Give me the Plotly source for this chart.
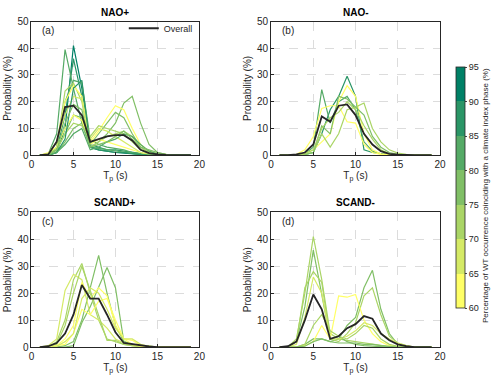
import plotly.graph_objects as go

tp = list(range(1, 20))

# ---- (a) NAO+
nao_pos_overall = [0, 0.3, 5, 18, 18.5, 15, 5, 6, 7, 7.5, 7.5, 5.5, 2, 0.8, 0.3, 0.1, 0, 0, 0]
nao_pos_pct = [92, 88, 83, 82, 78, 77, 72, 62, 61, 67, 73, 87, 81, 76]
nao_pos_lines = [
    [0, 0, 1, 10, 41, 25, 3, 2, 1.5, 1, 0.8, 0.5, 0.3, 0.1, 0, 0, 0, 0, 0],
    [0, 0, 2, 15, 36, 22, 4, 3, 2, 2, 1.5, 1, 0.5, 0.2, 0, 0, 0, 0, 0],
    [0, 0.5, 8, 39.5, 25, 12, 3, 2.5, 2, 1.5, 1, 0.5, 0.2, 0, 0, 0, 0, 0, 0],
    [0, 0, 3, 20, 28, 27, 6, 4, 3, 2.5, 2, 1, 0.5, 0.2, 0, 0, 0, 0, 0],
    [0, 0, 1, 5, 10, 12, 3, 5, 8, 12, 19.5, 22, 12, 4, 1, 0.3, 0, 0, 0],
    [0, 0, 2, 8, 15, 14, 4, 8, 12, 16, 14, 8, 3, 1, 0.3, 0, 0, 0, 0],
    [0, 0, 3, 24, 27, 20, 3, 5, 7, 8, 9, 7, 3, 1, 0.3, 0, 0, 0, 0],
    [0, 1, 3, 10, 15, 13, 5, 9, 14, 18.5, 17, 10, 4, 1.5, 0.5, 0.2, 0, 0, 0],
    [0, 0.5, 5, 20, 26, 22, 4, 6, 5, 4, 3, 2, 1, 0.3, 0, 0, 0, 0, 0],
    [0, 0.5, 5, 15, 22, 21, 6, 10, 9, 7, 5, 3, 1, 0.5, 0.2, 0, 0, 0, 0],
    [0, 0, 2, 8, 12, 11, 7, 11, 10, 9, 8, 5, 2, 0.5, 0.2, 0, 0, 0, 0],
    [0, 0, 1, 6, 25, 28, 3, 2, 1.5, 1, 1, 0.5, 0.2, 0, 0, 0, 0, 0, 0],
    [0, 0, 1, 4, 8, 10, 2, 3, 5, 6, 8, 7, 4, 1.5, 0.5, 0.2, 0, 0, 0],
    [0, 0, 2, 12, 19, 17, 3, 4, 5, 7, 9, 6, 3, 2, 1, 0.3, 0, 0, 0],
]

# ---- (b) NAO-
nao_neg_overall = [0, 0, 0.3, 1, 4, 14.5, 12.5, 18.5, 19, 15, 8, 4, 1.5, 0.5, 0.2, 0, 0, 0, 0]
nao_neg_pct = [88, 82, 62, 61, 72, 78, 73]
nao_neg_lines = [
    [0, 0, 0, 0.3, 1, 8, 17, 22, 29.5, 22, 2, 1, 0.5, 0.2, 0, 0, 0, 0, 0],
    [0, 0, 0, 0.5, 3, 24.5, 12, 20, 22, 17, 5, 1.5, 0.5, 0.2, 0, 0, 0, 0, 0],
    [0, 0, 0.3, 2, 7, 17.5, 18.5, 18.5, 12.5, 12, 4, 1, 0.3, 0, 0, 0, 0, 0, 0],
    [0, 0, 0, 0.5, 2, 5, 8, 20, 26, 22, 8, 2, 0.5, 0.2, 0, 0, 0, 0, 0],
    [0, 0, 0, 0.3, 1, 8, 3, 8, 17, 18, 19.5, 10, 5, 2, 0.8, 0.3, 0, 0, 0],
    [0, 0, 0, 0.2, 1, 11, 8, 22, 21, 18, 15, 7, 3, 1, 0.3, 0, 0, 0, 0],
    [0, 0, 0, 0.5, 2, 10, 14, 16, 20, 17, 11, 6, 2, 0.5, 0.2, 0, 0, 0, 0],
]

# ---- (c) SCAND+
scand_pos_overall = [0, 0.3, 1.5, 5, 12, 23, 18, 18, 12, 5.5, 1.5, 1, 0.5, 0.2, 0, 0, 0, 0, 0]
scand_pos_pct = [78, 77, 72, 68, 62, 73, 61, 67]
scand_pos_lines = [
    [0, 0, 0, 0.5, 2, 10, 22, 34, 20, 8, 2, 1, 0.5, 0.2, 0, 0, 0, 0, 0],
    [0, 0, 0, 0, 0.5, 9, 15, 22, 29.5, 22, 2, 1, 0.5, 0.3, 0, 0, 0, 0, 0],
    [0, 0, 2, 10, 25, 31, 20, 10, 3, 2, 1, 0.5, 0.2, 0, 0, 0, 0, 0, 0],
    [0, 0.5, 3, 21, 27, 25, 12, 10, 7, 3, 1.5, 0.5, 0.2, 0, 0, 0, 0, 0, 0],
    [0, 0, 0.5, 3, 8, 24, 18, 22, 19, 8, 3, 2.5, 0.5, 0.2, 0, 0, 0, 0, 0],
    [0, 0, 1, 8, 20, 30, 21, 12, 2.5, 2.5, 1, 0.5, 0.2, 0, 0, 0, 0, 0, 0],
    [0, 0, 0.5, 1, 5, 14, 12, 17, 18, 10, 3, 1, 0.3, 0, 0, 0, 0, 0, 0],
    [0, 0, 0.3, 2, 5, 18, 22, 20, 14, 7, 3, 3, 1, 0.3, 0, 0, 0, 0, 0],
]

# ---- (d) SCAND-
scand_neg_overall = [0, 0.3, 2, 10, 19.5, 14, 3, 4, 7, 8.5, 11.5, 10.5, 5, 2.5, 1, 0.3, 0, 0, 0]
scand_neg_pct = [72, 78, 77, 73, 62, 67, 71, 76]
scand_neg_lines = [
    [0, 0, 3, 20, 41, 25, 5, 3, 2.5, 2, 1.5, 1, 0.5, 0.2, 0, 0, 0, 0, 0],
    [0, 0, 2, 15, 36, 20, 3, 4, 2, 1, 0.5, 0.3, 0.1, 0, 0, 0, 0, 0, 0],
    [0, 0, 0, 1, 3, 3, 2, 3, 8, 11, 22, 28.5, 14, 5, 1, 0.3, 0, 0, 0],
    [0, 0, 2, 22, 28, 24, 3, 2, 5, 9, 19, 22, 12, 4, 1.5, 0.5, 0, 0, 0],
    [0, 0, 0, 0.5, 2, 8, 3, 19, 18.5, 19.5, 10, 5, 2, 0.5, 0.2, 0, 0, 0, 0],
    [0, 0, 1, 11, 26, 20, 3, 3, 4, 6, 9, 8, 5, 3, 1.5, 0.5, 0, 0, 0],
    [0, 0, 0, 1, 8, 12, 6, 4, 3, 5, 8, 7, 3, 1, 0.3, 0, 0, 0, 0],
    [0, 0, 0, 0.3, 2, 3, 2, 1.5, 1.5, 1.5, 1, 1, 0.5, 0.2, 0, 0, 0, 0, 0],
]

titles = ["NAO+", "NAO-", "SCAND+", "SCAND-"]
labels = ["(a)", "(b)", "(c)", "(d)"]
cb_ticks = [60, 65, 70, 75, 80, 85, 90, 95]

# reversed "summer" palette, 7 bins 60..95
bin_colors = ["rgb(255,255,102)", "rgb(213,234,102)", "rgb(170,213,102)", "rgb(128,191,102)",
              "rgb(85,170,102)", "rgb(42,149,102)", "rgb(0,128,102)"]
cmin, cmax = 60, 95
colorscale = []
for i, c in enumerate(bin_colors):
    colorscale.append([i / 7, c])
    colorscale.append([(i + 1) / 7, c])


def color_for(p):
    i = int((p - cmin) // 5)
    return bin_colors[max(0, min(6, i))]


W, H = 500, 385
# axes pixel boxes: (left, right, top, bottom)
boxes = [(29, 200, 16, 154), (273, 445, 16, 154), (29, 200, 213, 352), (273, 445, 213, 352)]

panels = [
    (nao_pos_lines, nao_pos_pct, nao_pos_overall),
    (nao_neg_lines, nao_neg_pct, nao_neg_overall),
    (scand_pos_lines, scand_pos_pct, scand_pos_overall),
    (scand_neg_lines, scand_neg_pct, scand_neg_overall),
]

fig = go.Figure()
font_fam = "Liberation Sans, Arial, sans-serif"
annotations = []
for k, (lines, pcts, overall) in enumerate(panels):
    xa = "x" if k == 0 else f"x{k+1}"
    ya = "y" if k == 0 else f"y{k+1}"
    for ln, p in zip(lines, pcts):
        fig.add_trace(go.Scatter(x=tp, y=ln, mode="lines", xaxis=xa, yaxis=ya,
                                 line=dict(color=color_for(p), width=1.2),
                                 showlegend=False, hoverinfo="skip"))
    fig.add_trace(go.Scatter(x=tp, y=overall, mode="lines", xaxis=xa, yaxis=ya,
                             line=dict(color="#262626", width=1.8),
                             name="Overall", showlegend=(k == 0)))
    l, r, t, b = boxes[k]
    dx = [l / W, r / W]
    dy = [1 - b / H, 1 - t / H]
    axname = "" if k == 0 else str(k + 1)
    common = dict(showline=True, mirror=True, linecolor="#262626", linewidth=0.8,
                  ticks="inside", ticklen=3, tickcolor="#262626",
                  showgrid=True, gridcolor="#dcdcdc", griddash="dash", gridwidth=0.8,
                  zeroline=False, tickfont=dict(size=10, color="#262626", family=font_fam))
    fig.layout["xaxis" + axname] = dict(domain=dx, range=[0, 20], tickvals=[0, 5, 10, 15, 20],
                                        anchor=ya, title=dict(text="T<sub>p</sub> (s)", standoff=2,
                                        font=dict(size=10, color="#262626", family=font_fam)), **common)
    fig.layout["yaxis" + axname] = dict(domain=dy, range=[0, 50], tickvals=[0, 10, 20, 30, 40, 50],
                                        anchor=xa, title=dict(text="Probability (%)", standoff=3,
                                        font=dict(size=10, color="#262626", family=font_fam)), **common)
    annotations.append(dict(text=f"<b>{titles[k]}</b>", x=(dx[0] + dx[1]) / 2, y=dy[1] + 2 / H,
                            xref="paper", yref="paper", xanchor="center", yanchor="bottom",
                            showarrow=False, font=dict(size=10, color="#000", family=font_fam)))
    annotations.append(dict(text=labels[k], x=1.0, y=46.5, xref=xa, yref=ya, xanchor="left",
                            yanchor="middle", showarrow=False,
                            font=dict(size=10, color="#262626", family=font_fam)))

# colorbar carrier
fig.add_trace(go.Scatter(x=[None], y=[None], mode="markers", showlegend=False, hoverinfo="skip",
                         marker=dict(color=[cmin], cmin=cmin, cmax=cmax, colorscale=colorscale,
                                     showscale=True,
                                     colorbar=dict(thickness=9, thicknessmode="pixels",
                                                   len=(312 - 63) / H, lenmode="fraction",
                                                   x=461 / W, xanchor="left", xpad=0,
                                                   y=1 - 187.5 / H, yanchor="middle", ypad=0,
                                                   tickvals=cb_ticks, ticks="outside", ticklen=2,
                                                   outlinewidth=0.8, outlinecolor="#262626",
                                                   tickfont=dict(size=9, color="#262626", family=font_fam)))))

annotations.append(dict(text="Percentage of WT occurrence coinciding with a climate index phase (%)",
                        x=492 / W, y=1 - 196 / H, xref="paper", yref="paper", textangle=-90,
                        xanchor="center", yanchor="middle", showarrow=False,
                        font=dict(size=8, color="#262626", family=font_fam)))

fig.update_layout(width=W, height=H, margin=dict(l=0, r=0, t=0, b=0),
                  paper_bgcolor="white", plot_bgcolor="white",
                  annotations=annotations,
                  legend=dict(x=123 / W, y=1 - 8 / H, xanchor="left", yanchor="top",
                              bgcolor="rgba(0,0,0,0)", itemwidth=30,
                              font=dict(size=9, color="#262626", family=font_fam)))

fig.write_html("out.html")
